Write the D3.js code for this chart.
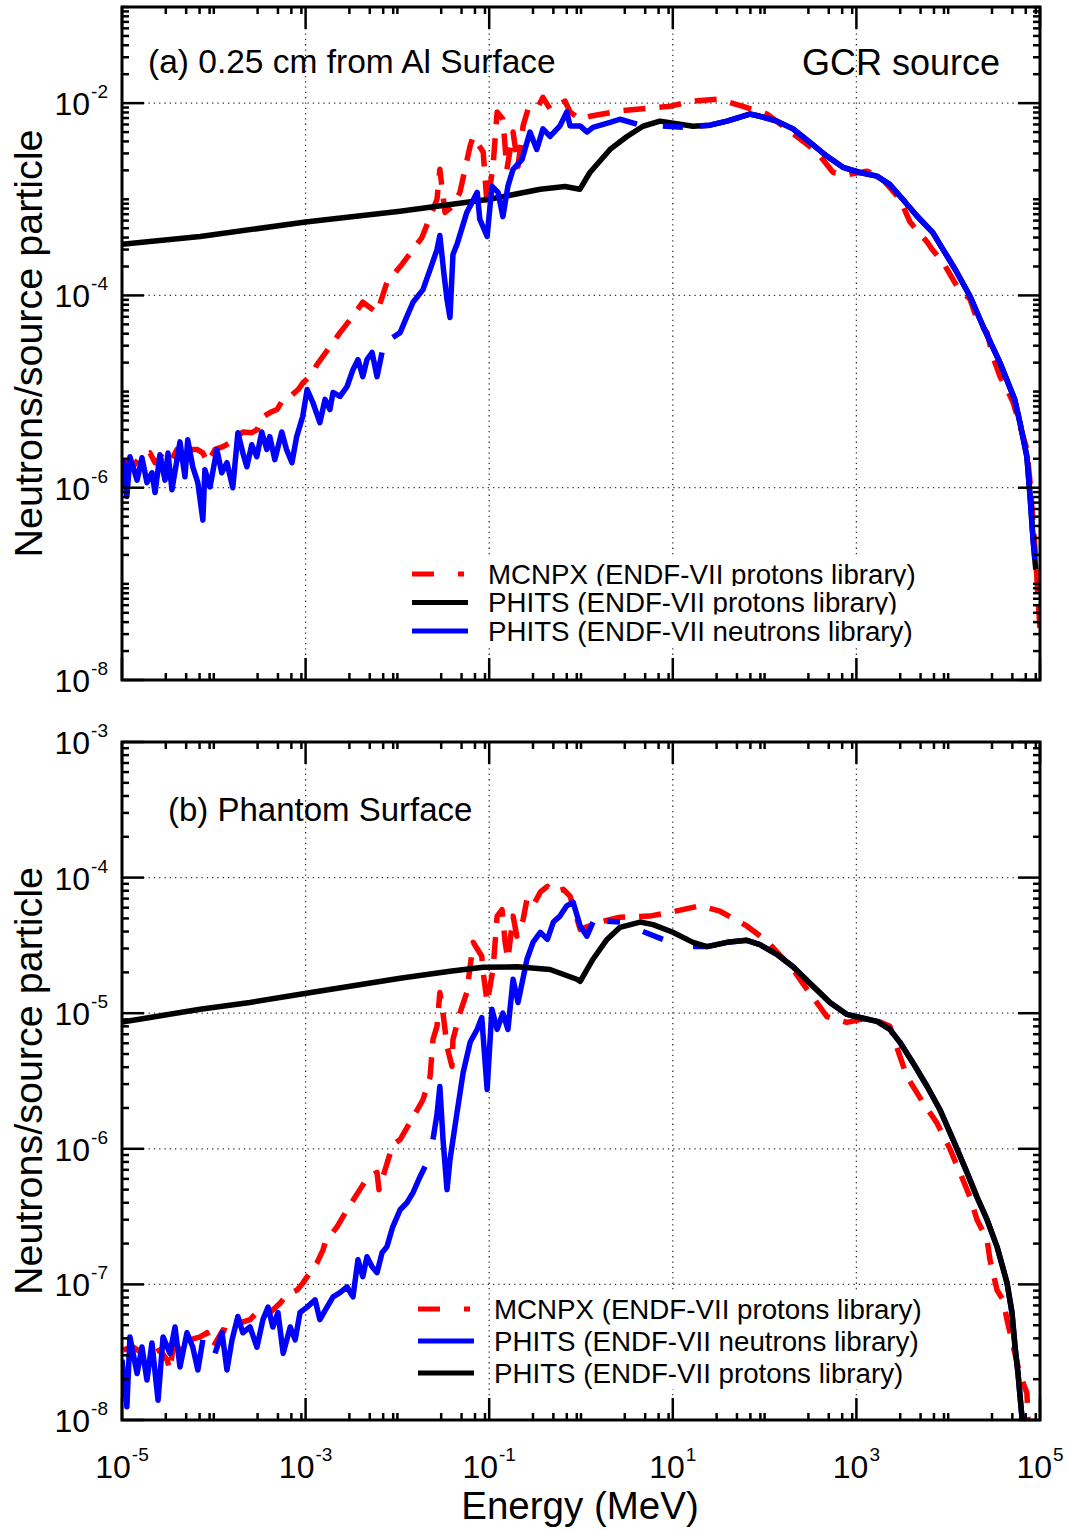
<!DOCTYPE html>
<html>
<head>
<meta charset="utf-8">
<script src="https://cdn.jsdelivr.net/npm/d3@7"></script>
<style>
  body { margin: 0; background: #fff; }
  text { font-family: "Liberation Sans", Arial, Helvetica, sans-serif; fill: #000; }
</style>
</head>
<body>
<div id="chart"></div>
<script>
// ---- data: [energy (MeV), neutrons/source particle]; null = gap in the curve
const topMcnpx = [[1.0e-5,1.65e-6],[1.13e-5,1.82e-6],[1.32e-5,1.65e-6],[1.57e-5,2.1e-6],[2.02e-5,2.3e-6],[2.29e-5,1.82e-6],[2.73e-5,2.1e-6],[3.33e-5,1.82e-6],[3.97e-5,2.5e-6],[4.62e-5,1.82e-6],[5.5e-5,2.5e-6],[6.56e-5,2.5e-6],[7.6e-5,2.3e-6],[8.6e-5,1.82e-6],[1.03e-4,2.5e-6],[1.26e-4,2.67e-6],[1.5e-4,2.94e-6],[1.79e-4,3.4e-6],[2.08e-4,3.8e-6],[2.6e-4,3.74e-6],[2.95e-4,4.0e-6],[3.43e-4,5.5e-6],[4.1e-4,6.05e-6],[4.88e-4,6.5e-6],[5.7e-4,8.3e-6],[6.8e-4,8.9e-6],[8.3e-4,1.05e-5],[9.4e-4,1.24e-5],[1.17e-3,1.5e-5],[1.33e-3,1.91e-5],[1.99e-3,3.24e-5],[2.37e-3,4.1e-5],[3.2e-3,5.9e-5],[4.2e-3,8.5e-5],[6.0e-3,6.6e-5],[7.7e-3,1.37e-4],[1.12e-2,2.1e-4],[1.48e-2,3.0e-4],[1.85e-2,4.0e-4],[2.27e-2,6.6e-4],[2.7e-2,1.0e-3],[2.9e-2,2.05e-3],[3.3e-2,7.3e-4],[4.03e-2,8.5e-4],[4.8e-2,1.18e-3],[6.2e-2,3.6e-3],[6.7e-2,4.5e-3],[8.6e-2,3.1e-3],[9.5e-2,8.5e-4],[0.11,2.2e-3],[0.122,8.1e-3],[0.141,6.8e-3],[0.156,2.05e-3],[0.182,5.0e-3],[0.206,2.2e-3],[0.234,5.8e-3],[0.265,8.7e-3],[0.33,8.7e-3],[0.385,1.15e-2],[0.46,8.7e-3],[0.55,9.3e-3],[0.67,1.05e-2],[0.76,8.1e-3],[0.98,6.8e-3],[1.25,7.3e-3],[2.66,8.3e-3],[4.4,8.7e-3],[9.4,9.3e-3],[16.6,1.05e-2],[31,1.1e-2],[57,9.3e-3],[106,7.7e-3],[175,5.4e-3],[372,3.1e-3],[555,1.91e-3],[752,1.78e-3],[1300,1.96e-3],[1800,1.74e-3],[2980,1.0e-3],[3840,5.8e-4],[5900,3.6e-4],[6700,3.0e-4],[8800,2.2e-4],[1.25e4,1.24e-4],[1.73e4,9.1e-5],[2.06e4,5.6e-5],[2.65e4,4.1e-5],[3.07e4,2.3e-5],[3.67e4,1.43e-5],[4.37e4,1.05e-5],[5.1e4,7.7e-6],[7.2e4,2.5e-6],[7.8e4,1.13e-6],[9.0e4,1.8e-7],[1e5,3.3e-8]];

const topPhitsP = [[1e-5,3.4e-4],[7.1e-5,4.1e-4],[1e-3,5.8e-4],[1.07e-2,7.5e-4],[0.1,1.0e-3],[0.36,1.27e-3],[0.67,1.36e-3],[0.97,1.27e-3],[1.25,1.9e-3],[2.07,3.3e-3],[3.17,4.5e-3],[4.73,5.75e-3],[7.25,6.5e-3],[16.6,5.75e-3],[25.4,5.9e-3],[38.9,6.5e-3],[69,7.7e-3],[89,7.3e-3],[136,6.5e-3],[204,5.4e-3],[312,3.9e-3],[479,2.8e-3],[714,2.15e-3],[1090,1.9e-3],[1670,1.74e-3],[2300,1.43e-3],[3200,1.0e-3],[4570,6.7e-4],[6800,4.5e-4],[8800,3.0e-4],[1.19e4,1.87e-4],[1.73e4,9.8e-5],[2.4e4,4.75e-5],[3.66e4,2.0e-5],[5.3e4,8.3e-6],[6.05e4,4.75e-6],[7.2e4,2.1e-6],[7.8e4,8.1e-7],[8.4e4,2.9e-7],[9.0e4,1.4e-7]];

const topPhitsN = [[1.03e-5,1.96e-6],[1.13e-5,8.1e-7],[1.22e-5,2.1e-6],[1.46e-5,1.2e-6],[1.65e-5,2.05e-6],[1.87e-5,1.13e-6],[2.12e-5,1.43e-6],[2.29e-5,8.9e-7],[2.59e-5,2.2e-6],[2.94e-5,1.2e-6],[3.17e-5,2.3e-6],[3.5e-5,9.5e-7],[3.97e-5,1.96e-6],[4.28e-5,3.0e-6],[4.85e-5,1.3e-6],[5.2e-5,3.16e-6],[5.9e-5,1.65e-6],[6.7e-5,1.13e-6],[7.6e-5,4.6e-7],[8.0e-5,1.54e-6],[9.1e-5,1.02e-6],[1.08e-4,2.49e-6],[1.22e-4,1.43e-6],[1.39e-4,1.82e-6],[1.61e-4,1.0e-6],[1.83e-4,3.74e-6],[2.07e-4,2.31e-6],[2.29e-4,1.65e-6],[2.59e-4,2.8e-6],[2.94e-4,2.1e-6],[3.33e-4,3.8e-6],[3.78e-4,2.5e-6],[4.07e-4,3.4e-6],[4.62e-4,1.96e-6],[5.5e-4,3.8e-6],[6.2e-4,2.5e-6],[7.1e-4,1.82e-6],[8.0e-4,3.4e-6],[9.3e-4,5.5e-6],[1.04e-3,1.05e-5],[1.2e-3,7.7e-6],[1.43e-3,4.76e-6],[1.63e-3,8.3e-6],[1.84e-3,6.5e-6],[1.99e-3,9.8e-6],[2.37e-3,8.9e-6],[2.83e-3,1.13e-5],[3.28e-3,1.69e-5],[3.72e-3,2.15e-5],[4.2e-3,1.43e-5],[4.66e-3,2.15e-5],[5.3e-3,2.55e-5],[6.0e-3,1.43e-5],[6.8e-3,2.55e-5],[7.5e-3,null],[8.9e-3,3.65e-5],[1.07e-2,4.1e-5],[1.27e-2,6.05e-5],[1.48e-2,8.5e-5],[1.9e-2,1.15e-4],[2.44e-2,2.26e-4],[2.7e-2,3.0e-4],[2.9e-2,4.2e-4],[3.22e-2,1.65e-4],[3.47e-2,9.1e-5],[3.74e-2,5.9e-5],[4.03e-2,2.67e-4],[4.46e-2,3.4e-4],[5.7e-2,7.3e-4],[7.4e-2,1.18e-3],[7.9e-2,6.2e-4],[9.5e-2,4.1e-4],[0.107,1.37e-3],[0.125,1.18e-3],[0.141,6.6e-4],[0.16,1.37e-3],[0.182,2.05e-3],[0.228,2.6e-3],[0.278,5.0e-3],[0.33,3.3e-3],[0.385,5.4e-3],[0.46,4.5e-3],[0.59,5.8e-3],[0.7,8.1e-3],[0.76,5.8e-3],[0.98,5.8e-3],[1.16,5.0e-3],[1.35,5.6e-3],[2.07,6.3e-3],[2.66,6.8e-3],[4.07,6.05e-3],[5.0,null],[7.8,5.8e-3],[12.9,5.6e-3],[15,null],[19.8,5.8e-3],[25.4,5.9e-3],[39,6.5e-3],[69,7.7e-3],[89,7.3e-3],[136,6.5e-3],[204,5.4e-3],[312,3.9e-3],[479,2.8e-3],[714,2.15e-3],[1090,1.9e-3],[1670,1.74e-3],[2300,1.43e-3],[3200,1.0e-3],[4570,6.7e-4],[6800,4.5e-4],[8800,3.0e-4],[1.19e4,1.87e-4],[1.73e4,9.8e-5],[2.4e4,4.75e-5],[3.66e4,2.0e-5],[5.3e4,8.3e-6],[6.05e4,4.75e-6],[7.2e4,2.1e-6],[7.8e4,8.1e-7],[8.4e4,2.9e-7],[8.8e4,1.8e-7]];

const botMcnpx = [[1.03e-5,3.29e-8],[1.32e-5,3.45e-8],[1.69e-5,3.1e-8],[2.18e-5,3.1e-8],[2.59e-5,3.29e-8],[3.09e-5,2.78e-8],[3.33e-5,2.34e-8],[3.6e-5,3.45e-8],[4.62e-5,3.29e-8],[5.5e-5,3.9e-8],[7.1e-5,4.1e-8],[8.4e-5,4.4e-8],[9.8e-5,3.45e-8],[1.26e-4,4.62e-8],[1.62e-4,4.4e-8],[1.93e-4,5.2e-8],[2.48e-4,5.5e-8],[2.95e-4,6.2e-8],[3.43e-4,6.5e-8],[4.1e-4,6.2e-8],[5.3e-4,7.3e-8],[6.3e-4,8.4e-8],[8.1e-4,9.1e-8],[9.4e-4,1.03e-7],[1.12e-3,1.22e-7],[1.33e-3,1.44e-7],[1.55e-3,1.8e-7],[1.63e-3,2.03e-7],[2.2e-3,2.66e-7],[2.83e-3,3.55e-7],[3.9e-3,5.0e-7],[4.78e-3,6.2e-7],[6.0e-3,6.7e-7],[6.3e-3,5.0e-7],[8.9e-3,1.07e-6],[1.07e-2,1.17e-6],[1.37e-2,1.56e-6],[1.9e-2,2.3e-6],[2.27e-2,3.4e-6],[2.44e-2,6.4e-6],[2.7e-2,8.0e-6],[2.9e-2,1.42e-5],[3.14e-2,1.0e-5],[3.47e-2,5.7e-6],[3.93e-2,4.05e-6],[4.03e-2,6.4e-6],[4.8e-2,1.0e-5],[5.7e-2,1.42e-5],[6.7e-2,3.33e-5],[8.3e-2,2.63e-5],[8.6e-2,2.0e-5],[9.5e-2,1.2e-5],[0.11,2.1e-5],[0.122,5.2e-5],[0.138,5.8e-5],[0.149,3.33e-5],[0.16,2.5e-5],[0.182,5.2e-5],[0.2,3.7e-5],[0.234,4.9e-5],[0.258,6.9e-5],[0.3,6.2e-5],[0.36,7.8e-5],[0.43,8.6e-5],[0.5,7.8e-5],[0.64,8.2e-5],[0.76,7.3e-5],[0.86,5.55e-5],[0.98,4.15e-5],[1.61,4.7e-5],[2.66,5.1e-5],[5.6,5.2e-5],[9.4,5.55e-5],[19.8,6.2e-5],[32.6,5.65e-5],[64,4.4e-5],[106,3.4e-5],[204,2.1e-5],[290,1.5e-5],[477,9.45e-6],[790,8.55e-6],[1410,9.3e-6],[2320,8.0e-6],[2980,4.8e-6],[3560,3.4e-6],[5300,2.2e-6],[7500,1.56e-6],[1.05e4,9.9e-7],[1.34e4,6.7e-7],[1.73e4,4.4e-7],[2.06e4,3.0e-7],[2.65e4,2.14e-7],[2.85e4,1.52e-7],[3.4e4,9.1e-8],[3.95e4,7.7e-8],[4.37e4,5.5e-8],[6.0e4,2.2e-8],[7.2e4,1.58e-8],[7.4e4,1.05e-8],[7.6e4,6e-9]];

const botPhitsN = [[1e-5,2.78e-8],[1.13e-5,1.25e-8],[1.22e-5,4.1e-8],[1.46e-5,2.2e-8],[1.65e-5,3.45e-8],[1.87e-5,1.97e-8],[2.12e-5,3.7e-8],[2.47e-5,1.4e-8],[2.8e-5,4.1e-8],[3.33e-5,3.1e-8],[3.78e-5,4.85e-8],[4.28e-5,2.46e-8],[5.1e-5,4.4e-8],[5.9e-5,3.45e-8],[6.7e-5,2.34e-8],[7.6e-5,3.9e-8],[8.4e-5,null],[9.1e-5,1.48e-8],[9.6e-5,null],[1.03e-4,3.1e-8],[1.23e-4,4.4e-8],[1.39e-4,2.34e-8],[1.58e-4,3.9e-8],[1.83e-4,5.8e-8],[2.07e-4,4.4e-8],[2.48e-4,4.85e-8],[2.95e-4,3.45e-8],[3.43e-4,5.5e-8],[3.9e-4,6.8e-8],[4.4e-4,4.85e-8],[5.0e-4,6.2e-8],[5.7e-4,3.1e-8],[6.8e-4,4.85e-8],[7.7e-4,3.9e-8],[8.7e-4,6.2e-8],[1.04e-3,6.8e-8],[1.27e-3,7.7e-8],[1.43e-3,5.5e-8],[1.71e-3,6.8e-8],[1.99e-3,8.1e-8],[2.37e-3,8.7e-8],[2.83e-3,9.6e-8],[3.28e-3,8.1e-8],[3.72e-3,1.52e-7],[4.2e-3,1.14e-7],[4.66e-3,1.6e-7],[5.3e-3,1.35e-7],[6.0e-3,1.22e-7],[6.8e-3,1.71e-7],[7.7e-3,1.9e-7],[8.9e-3,2.66e-7],[1.07e-2,3.55e-7],[1.27e-2,4.0e-7],[1.48e-2,4.75e-7],[1.76e-2,6.2e-7],[2.0e-2,7.4e-7],[2.2e-2,null],[2.44e-2,1.17e-6],[2.7e-2,1.79e-6],[2.9e-2,2.88e-6],[3.14e-2,1.17e-6],[3.47e-2,5.0e-7],[3.74e-2,8.3e-7],[4.46e-2,1.85e-6],[5.2e-2,3.65e-6],[6.2e-2,6.1e-6],[7.4e-2,7.6e-6],[8.3e-2,9.3e-6],[9.5e-2,2.74e-6],[0.107,1.07e-5],[0.122,7.6e-6],[0.141,1.0e-5],[0.16,7.6e-6],[0.182,1.78e-5],[0.206,1.2e-5],[0.258,2.5e-5],[0.3,3.33e-5],[0.36,3.95e-5],[0.43,3.5e-5],[0.5,4.7e-5],[0.59,5.2e-5],[0.7,6.2e-5],[0.82,6.6e-5],[0.98,4.4e-5],[1.16,3.7e-5],[1.35,4.7e-5],[1.6,null],[1.92,4.76e-5],[2.66,4.7e-5],[3.5,null],[4.73,4.0e-5],[7.8,3.5e-5],[11,null],[16.6,3.1e-5],[23.6,3.1e-5],[39,3.33e-5],[64,3.45e-5],[89,3.2e-5],[136,2.72e-5],[204,2.2e-5],[337,1.58e-5],[515,1.2e-5],[790,9.8e-6],[1090,9.3e-6],[1680,8.7e-6],[2320,7.6e-6],[2980,6.1e-6],[4140,4.3e-6],[5900,2.88e-6],[8100,1.95e-6],[1.13e4,1.17e-6],[1.6e4,6.7e-7],[2.06e4,4.4e-7],[2.65e4,3.0e-7],[3.4e4,1.9e-7],[4.37e4,1.03e-7],[4.95e4,6.2e-8],[5.35e4,3.45e-8],[5.76e4,2.2e-8],[6.4e4,1.0e-8]];

const botPhitsP = [[1e-5,8.6e-6],[2.02e-5,9.3e-6],[7.1e-5,1.07e-5],[2.48e-4,1.2e-5],[8.7e-4,1.38e-5],[3.05e-3,1.58e-5],[1.07e-2,1.81e-5],[3.74e-2,2.04e-5],[8.6e-2,2.18e-5],[0.2,2.2e-5],[0.46,2.1e-5],[0.9,1.78e-5],[0.98,1.72e-5],[1.35,2.5e-5],[1.92,3.5e-5],[2.66,4.3e-5],[4.4,4.7e-5],[6.1,4.5e-5],[10,3.95e-5],[16.6,3.33e-5],[23.6,3.1e-5],[39,3.33e-5],[64,3.45e-5],[89,3.2e-5],[136,2.72e-5],[204,2.2e-5],[337,1.58e-5],[515,1.2e-5],[790,9.8e-6],[1090,9.3e-6],[1680,8.7e-6],[2320,7.6e-6],[2980,6.1e-6],[4140,4.3e-6],[5900,2.88e-6],[8100,1.95e-6],[1.13e4,1.17e-6],[1.6e4,6.7e-7],[2.06e4,4.4e-7],[2.65e4,3.0e-7],[3.4e4,1.9e-7],[4.37e4,1.03e-7],[4.95e4,6.2e-8],[5.35e4,3.45e-8],[5.76e4,2.2e-8],[6.4e4,1.0e-8],[6.6e4,5e-9]];

// tick labels (exponents of 10)
const xTickExps = [-5, -3, -1, 1, 3, 5];
const topYTickExps = [-2, -4, -6, -8];
const botYTickExps = [-3, -4, -5, -6, -7, -8];

const labelMcnpx = 'MCNPX (ENDF-VII protons library)';
const labelPhitsP = 'PHITS (ENDF-VII protons library)';
const labelPhitsN = 'PHITS (ENDF-VII neutrons library)';

// ---- layout
const svg = d3.select('#chart').append('svg')
    .attr('width', 1068)
    .attr('height', 1530);

const x = d3.scaleLog().domain([1e-5, 1e5]).range([122, 1040]);
const red = '#ff0000', blue = '#0000ff', black = '#000000';
const redDash = '22,14';

function tickLabel(sel, exp) {
    sel.append('tspan').attr('font-size', 32).text('10');
    sel.append('tspan').attr('font-size', 19).attr('dx', 1).attr('dy', -17).text(exp);
}

function drawPanel(p) {
    const y = d3.scaleLog().domain(p.yDomain).range([p.bottom, p.top]);
    const g = svg.append('g');
    const x0 = x.range()[0], x1 = x.range()[1];

    svg.append('clipPath').attr('id', 'clip-' + p.id)
        .append('rect')
        .attr('x', x0).attr('y', p.top)
        .attr('width', x1 - x0).attr('height', p.bottom - p.top);

    // dotted grid
    g.selectAll('.gx').data(xTickExps.slice(1, -1)).join('line')
        .attr('x1', d => x(Math.pow(10, d))).attr('x2', d => x(Math.pow(10, d)))
        .attr('y1', p.top).attr('y2', p.bottom)
        .attr('stroke', '#333').attr('stroke-width', 1.3).attr('stroke-dasharray', '1.3,4');
    g.selectAll('.gy').data(p.yLabels.filter(e => Math.pow(10, e) > p.yDomain[0] && Math.pow(10, e) < p.yDomain[1])).join('line')
        .attr('x1', x0).attr('x2', x1)
        .attr('y1', d => y(Math.pow(10, d))).attr('y2', d => y(Math.pow(10, d)))
        .attr('stroke', '#333').attr('stroke-width', 1.3).attr('stroke-dasharray', '1.3,4');

    // curves
    const line = d3.line()
        .defined(d => d[1] != null)
        .x(d => x(d[0]))
        .y(d => y(d[1]));
    const curves = g.append('g').attr('clip-path', 'url(#clip-' + p.id + ')');
    p.series.forEach(s => {
        curves.append('path')
            .datum(s.data)
            .attr('d', line)
            .attr('fill', 'none')
            .attr('stroke', s.color)
            .attr('stroke-width', 5.5)
            .attr('stroke-linejoin', 'round')
            .attr('stroke-dasharray', s.dash || null);
    });

    // ticks, inward on all four sides
    const xt = [];
    for (let k = -5; k <= 5; k++) {
        xt.push({v: Math.pow(10, k), len: xTickExps.includes(k) ? 22 : 7});
        if (k < 5) [3, 5, 7, 9].forEach(m => xt.push({v: m * Math.pow(10, k), len: 7}));
    }
    const yt = [];
    const kLo = Math.round(Math.log10(p.yDomain[0])), kHi = Math.round(Math.log10(p.yDomain[1]));
    for (let k = kLo; k <= kHi; k++) {
        yt.push({v: Math.pow(10, k), len: p.yLabels.includes(k) ? 22 : 7});
        if (k < kHi) [2, 3, 4, 5, 6, 7, 8, 9].forEach(m => yt.push({v: m * Math.pow(10, k), len: 7}));
    }
    const ticks = g.append('g').attr('stroke', '#000').attr('stroke-width', 2.5);
    xt.forEach(t => {
        const px = x(t.v);
        ticks.append('line').attr('x1', px).attr('x2', px).attr('y1', p.bottom).attr('y2', p.bottom - t.len);
        ticks.append('line').attr('x1', px).attr('x2', px).attr('y1', p.top).attr('y2', p.top + t.len);
    });
    yt.forEach(t => {
        const py = y(t.v);
        ticks.append('line').attr('x1', x0).attr('x2', x0 + t.len).attr('y1', py).attr('y2', py);
        ticks.append('line').attr('x1', x1).attr('x2', x1 - t.len).attr('y1', py).attr('y2', py);
    });

    // frame
    g.append('rect')
        .attr('x', x0).attr('y', p.top)
        .attr('width', x1 - x0).attr('height', p.bottom - p.top)
        .attr('fill', 'none').attr('stroke', '#000').attr('stroke-width', 3);

    // y tick labels
    p.yLabels.forEach(e => {
        const t = g.append('text')
            .attr('x', 108).attr('y', y(Math.pow(10, e)) + 12)
            .attr('text-anchor', 'end');
        tickLabel(t, String(e));
    });

    // x tick labels
    if (p.xLabels) {
        xTickExps.forEach(e => {
            const t = g.append('text')
                .attr('x', x(Math.pow(10, e))).attr('y', p.bottom + 58)
                .attr('text-anchor', 'middle');
            tickLabel(t, String(e));
        });
    }

    // y axis title
    g.append('text')
        .attr('transform', 'translate(42,' + ((p.top + p.bottom) / 2) + ') rotate(-90)')
        .attr('text-anchor', 'middle')
        .attr('font-size', 39.5)
        .text('Neutrons/source particle');

    // panel labels
    p.notes.forEach(n => {
        g.append('text')
            .attr('x', n.x).attr('y', n.y)
            .attr('text-anchor', n.anchor || 'start')
            .attr('font-size', n.size)
            .text(n.text);
    });

    // legend: each text sits on a white box
    const lg = g.append('g');
    p.legend.rows.forEach((r, i) => {
        const cy = p.legend.y + i * p.legend.step;
        lg.append('line')
            .attr('x1', p.legend.x).attr('x2', p.legend.x + 56)
            .attr('y1', cy).attr('y2', cy)
            .attr('stroke', r.color).attr('stroke-width', 5)
            .attr('stroke-dasharray', r.dash || null);
        const bg = lg.append('rect').attr('fill', '#fff');
        const txt = lg.append('text')
            .attr('x', p.legend.tx).attr('y', cy + 9.5)
            .attr('font-size', 27.7)
            .text(r.label);
        const w = txt.node().getComputedTextLength();
        bg.attr('x', p.legend.tx - 2).attr('y', cy + 9.5 - 26)
            .attr('width', w + 4).attr('height', 33);
    });
}

drawPanel({
    id: 'a', top: 7, bottom: 680, yDomain: [1e-8, 1e-1],
    yLabels: topYTickExps, xLabels: false,
    series: [
        {data: topMcnpx, color: red, dash: redDash},
        {data: topPhitsP, color: black},
        {data: topPhitsN, color: blue}
    ],
    notes: [
        {text: '(a) 0.25 cm from Al Surface', x: 148, y: 73, size: 33.5},
        {text: 'GCR source', x: 1000, y: 75, size: 36, anchor: 'end'}
    ],
    legend: {
        x: 412, tx: 488, y: 574, step: 28.5,
        rows: [
            {label: labelMcnpx, color: red, dash: '22,24,6,40'},
            {label: labelPhitsP, color: black},
            {label: labelPhitsN, color: blue}
        ]
    }
});

drawPanel({
    id: 'b', top: 742, bottom: 1420, yDomain: [1e-8, 1e-3],
    yLabels: botYTickExps, xLabels: true,
    series: [
        {data: botMcnpx, color: red, dash: redDash},
        {data: botPhitsN, color: blue},
        {data: botPhitsP, color: black}
    ],
    notes: [
        {text: '(b) Phantom Surface', x: 168, y: 821, size: 33}
    ],
    legend: {
        x: 418, tx: 494, y: 1309, step: 32,
        rows: [
            {label: labelMcnpx, color: red, dash: '22,24,6,40'},
            {label: labelPhitsN, color: blue},
            {label: labelPhitsP, color: black}
        ]
    }
});

// x axis title
svg.append('text')
    .attr('x', 580).attr('y', 1519)
    .attr('text-anchor', 'middle')
    .attr('font-size', 38.5)
    .text('Energy (MeV)');
</script>
</body>
</html>
